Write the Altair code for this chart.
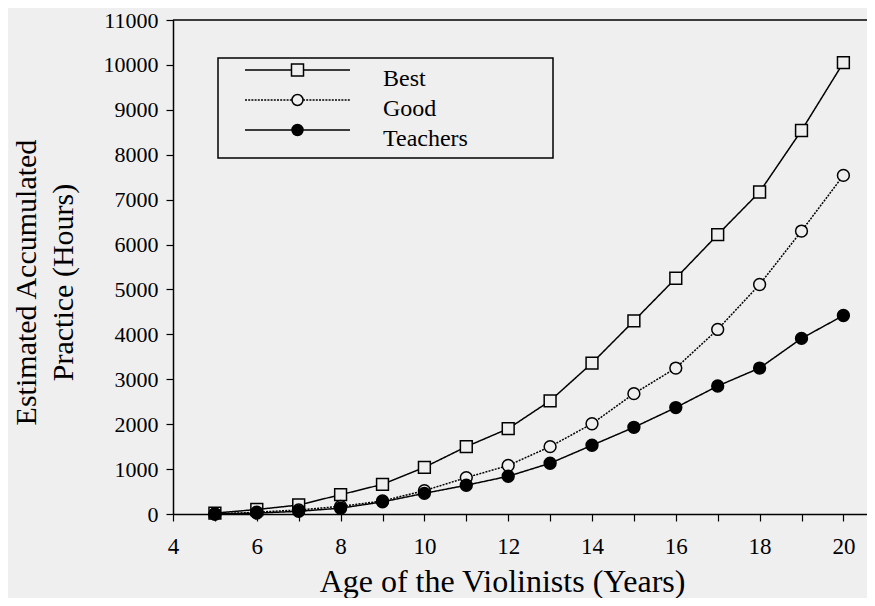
import altair as alt
import pandas as pd

# ---- data ----
ages = list(range(5, 21))
best = [20, 100, 200, 430, 660, 1040, 1500, 1900, 2520, 3360, 4300, 5250, 6220, 7170, 8540, 10050]
good = [0, 40, 90, 170, 290, 520, 810, 1080, 1500, 2010, 2680, 3250, 4110, 5110, 6300, 7540]
teachers = [0, 20, 60, 130, 270, 460, 640, 840, 1130, 1530, 1930, 2370, 2850, 3250, 3910, 4420]
series = ["Best", "Good", "Teachers"]
x_ticks = list(range(4, 21))
y_ticks = list(range(0, 11001, 1000))

rows = []
for name, vals in zip(series, [best, good, teachers]):
    for a, v in zip(ages, vals):
        rows.append({"age": a, "hours": v, "group": name})
df = pd.DataFrame(rows)
frame_top = pd.DataFrame({"hours": [y_ticks[-1]]})

BG = "#f0eff0"
FONT = "Liberation Serif"

# ---- legend symbol paths (unit = sqrt(size)/2 px) ----
LEG_SIZE = 676
U = 13.0
half = 52.5 / U
sq = 6.0 / U
rc = 5.5 / U
dy = -9.0 / U


def n(v):
    return f"{v:.3f}"


Y0 = n(dy)
best_path = (f"M{n(-half)},{Y0}H{n(-sq)}M{n(sq)},{Y0}H{n(half)}"
             f"M{n(-sq)},{n(dy - sq)}H{n(sq)}V{n(dy + sq)}H{n(-sq)}Z")
circle = (f"M{n(-rc)},{Y0}A{n(rc)},{n(rc)} 0 1 0 {n(rc)},{Y0}"
          f"A{n(rc)},{n(rc)} 0 1 0 {n(-rc)},{Y0}Z")
dash, gap = 2.0 / U, 1.2 / U
dots = []
for a, b in [(-half, -rc), (rc, half)]:
    p = a
    while p < b:
        q = min(p + dash, b)
        dots.append(f"M{n(p)},{Y0}H{n(q)}")
        p = q + gap
good_path = "".join(dots) + circle
teach_path = f"M{n(-half)},{Y0}H{n(-rc)}M{n(rc)},{Y0}H{n(half)}" + circle
FILL = "\u00a0" * 13 + "\u200b"

PX_PER_YEAR = 41.9
WIDTH = 694
xscale = alt.Scale(domain=[4, 4 + WIDTH / PX_PER_YEAR], nice=False, zero=False)
yscale = alt.Scale(domain=[0, 11000], nice=False)

x_axis = alt.Axis(
    values=x_ticks,
    labelExpr="datum.value % 2 == 0 ? datum.label : ''",
    tickSize=7, labelPadding=14, labelFont=FONT, labelFontSize=23,
    labelOverlap=False, labelFlush=False,
    title="Age of the Violinists (Years)", titleFont=FONT, titleFontSize=32,
    titleX=329, titleY=77, titleBaseline="alphabetic", titleAlign="center",
)
Y_TITLE = ["Estimated Accumulated", "Practice (Hours)"]
y_axis = alt.Axis(
    values=y_ticks, format="d", tickSize=7, labelPadding=8, labelFont=FONT,
    labelFontSize=22, labelOverlap=False, labelFlush=False,
    title=Y_TITLE, titleFont=FONT,
    titleFontSize=30, titleLineHeight=37, titleAngle=270, titleX=-138, titleY=262,
    titleBaseline="alphabetic", titleAlign="center",
)

lines = alt.Chart(df).mark_line(color="black", strokeWidth=1.5).encode(
    x=alt.X("age:Q", scale=xscale, axis=x_axis),
    y=alt.Y("hours:Q", scale=yscale, axis=y_axis),
    strokeDash=alt.StrokeDash(
        "group:N",
        scale=alt.Scale(domain=series, range=[[1, 0], [2, 1.2], [1, 0]]),
        legend=None,
    ),
)

# top edge of the frame, at the top of the y scale
top_rule = alt.Chart(frame_top).mark_rule(color="black", strokeWidth=1.5).encode(
    y=alt.Y("hours:Q", scale=yscale, title=Y_TITLE),
)

points = alt.Chart(df).mark_point(
    filled=True, stroke="black", strokeWidth=1.5, size=140, opacity=1
).encode(
    x=alt.X("age:Q", scale=xscale),
    y=alt.Y("hours:Q", scale=yscale),
    shape=alt.Shape(
        "group:N",
        scale=alt.Scale(domain=series, range=["square", "circle", "circle"]),
        legend=None,
    ),
    fill=alt.Fill(
        "group:N",
        scale=alt.Scale(domain=series, range=[BG, BG, "black"]),
        legend=None,
    ),
)

legend = alt.Legend(
    title=None, orient="none", legendX=45, legendY=38,
    symbolSize=LEG_SIZE, symbolStrokeWidth=1.5, symbolStrokeColor="black",
    symbolFillColor=BG, symbolOpacity=1, symbolOffset=58.5,
    labelOffset=71.5, padding=7, rowPadding=0,
    labelFont=FONT, labelFontSize=24, labelColor="black", labelLimit=400,
    labelExpr=f"datum.label + '{FILL}'",
    strokeColor="black", fillColor=BG,
)

# legend-only layer: no rows pass the filter, the legend comes from its scales
legend_layer = alt.Chart(df).transform_filter("false").mark_point(
    filled=True, stroke="black", strokeWidth=1.5, opacity=1
).encode(
    x=alt.X("age:Q", scale=xscale),
    y=alt.Y("hours:Q", scale=yscale),
    shape=alt.Shape(
        "group:N",
        scale=alt.Scale(domain=series, range=[best_path, good_path, teach_path]),
        legend=legend,
    ),
    fill=alt.Fill(
        "group:N",
        scale=alt.Scale(domain=series, range=[BG, BG, "black"]),
        legend=legend,
    ),
)

chart = (
    alt.layer(lines, top_rule, points, legend_layer)
    .resolve_scale(shape="independent", fill="independent")
    .properties(
        width=WIDTH, height=494,
        autosize=alt.AutoSizeParams(type="none"),
        padding={"left": 165, "top": 12, "right": 0, "bottom": 84},
        background=BG,
    )
    .configure_view(stroke=None)
    .configure_legend(strokeWidth=1.5)
    .configure_axis(
        labelColor="black", titleColor="black",
        domainColor="black", tickColor="black", domainWidth=1.5, tickWidth=1.2,
        grid=False, titleFontWeight="normal",
    )
)

chart.save("out.html", embed_options={"renderer": "svg", "actions": False})
